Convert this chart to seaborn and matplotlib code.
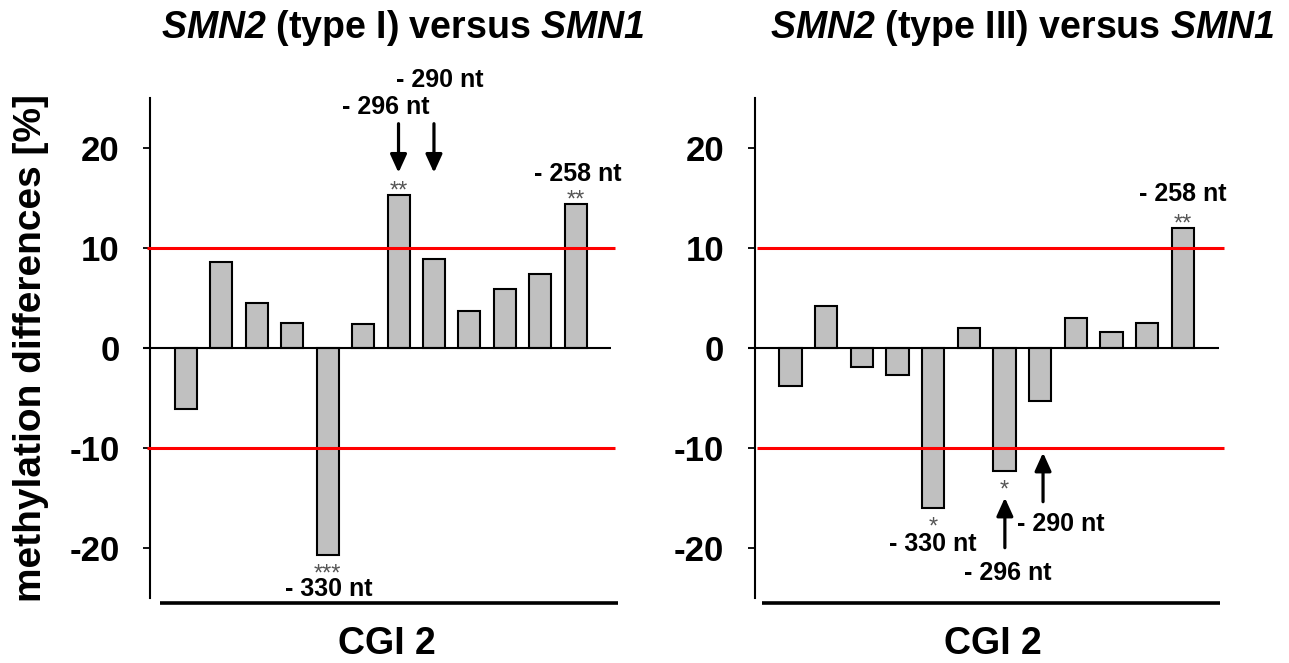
import matplotlib
matplotlib.use("Agg")
import matplotlib.pyplot as plt
import seaborn as sns
import pandas as pd

# ---------------- data ----------------
cpg_sites = [1, 2, 3, 4, 5, 6, 7, 8, 9, 10, 11, 12]
type1_diff = [-6.1, 8.6, 4.5, 2.5, -20.7, 2.4, 15.3, 8.9, 3.7, 5.9, 7.4, 14.4]
type3_diff = [-3.8, 4.2, -1.9, -2.7, -16.0, 2.0, -12.3, -5.3, 3.0, 1.6, 2.5, 12.0]
type1_sig = ["", "", "", "", "***", "", "**", "", "", "", "", "**"]
type3_sig = ["", "", "", "", "*", "", "*", "", "", "", "", "**"]
threshold = 10
y_ticks = [-20, -10, 0, 10, 20]
titles = [r"$\mathrm{SMN2}$ (type I) versus $\mathrm{SMN1}$",
          r"$\mathrm{SMN2}$ (type III) versus $\mathrm{SMN1}$"]
xlabel_text = "CGI 2"
ylabel_text = "methylation differences [%]"

# ---------------- style ----------------
sns.set_style("white")
plt.rcParams["font.family"] = ["Liberation Sans", "DejaVu Sans"]
plt.rcParams["font.weight"] = "bold"
plt.rcParams["axes.unicode_minus"] = False
plt.rcParams["text.color"] = "black"
plt.rcParams["axes.labelcolor"] = "black"
plt.rcParams["ytick.color"] = "black"
plt.rcParams["xtick.color"] = "black"
plt.rcParams["mathtext.fontset"] = "custom"
plt.rcParams["mathtext.it"] = "Liberation Sans:italic:bold"
plt.rcParams["mathtext.rm"] = "Liberation Sans:italic:bold"
plt.rcParams["mathtext.bf"] = "Liberation Sans:italic:bold"

W, H = 1289, 663
fig = plt.figure(figsize=(W / 100, H / 100), dpi=100)

def fx(px):
    return px / W

def fy(py):
    return (H - py) / H

ax_bottom, ax_top = 597.7, 97.7
ax1 = fig.add_axes([fx(150.4), fy(ax_bottom), fx(616.5 - 150.4), (ax_bottom - ax_top) / H])
ax2 = fig.add_axes([fx(754.8), fy(ax_bottom), fx(1223.9 - 754.8), (ax_bottom - ax_top) / H])

panels = [
    dict(ax=ax1, vals=type1_diff, sig=type1_sig, red=(-1.1, 12.1), zero=(-1.2, 12.0),
         base=(-0.73, 12.19)),
    dict(ax=ax2, vals=type3_diff, sig=type3_sig, red=(-0.95, 12.15), zero=(-1.2, 12.0),
         base=(-0.8, 12.05)),
]

for p in panels:
    ax = p["ax"]
    df = pd.DataFrame({"site": cpg_sites, "diff": p["vals"]})
    sns.barplot(data=df, x="site", y="diff", ax=ax, color="#c0c0c0", saturation=1,
                edgecolor="black", linewidth=1.5, width=0.62, zorder=3)
    ax.set_xlim(-1.0, 12.15)
    ax.set_ylim(-25, 25)
    ax.set_xticks([])
    ax.set_yticks(y_ticks)
    ax.set_yticklabels([str(t) for t in y_ticks])
    ax.tick_params(axis="y", direction="out", length=5, width=1.3, pad=17,
                   labelsize=25, left=True, colors="black")
    for lbl in ax.get_yticklabels():
        lbl.set_fontweight("bold")
    for s in ["top", "right", "bottom"]:
        ax.spines[s].set_visible(False)
    ax.spines["left"].set_linewidth(1.5)
    ax.spines["left"].set_color("black")
    ax.set_xlabel("")
    ax.set_ylabel("")
    ax.patch.set_alpha(0)
    # zero line and thresholds
    ax.hlines(0, p["zero"][0], p["zero"][1], color="black", lw=1.5, zorder=4, clip_on=False)
    ax.hlines([threshold, -threshold], p["red"][0], p["red"][1], color="#ff0000", lw=2.2,
              zorder=5, clip_on=False)
    ax.plot(list(p["base"]), [-25.56, -25.56], color="black", lw=2.6, clip_on=False,
            solid_capstyle="butt")
    # significance stars
    for i, (v, s) in enumerate(zip(p["vals"], p["sig"])):
        if s:
            off = -2 if v > 0 else -18.5
            ax.annotate(s, xy=(i, v), xytext=(0, off), textcoords="offset points",
                        ha="center", va="baseline", fontsize=17, fontweight="normal",
                        color="#555555", zorder=6, annotation_clip=False)

arrow_kw = dict(arrowstyle="-|>,head_length=0.55,head_width=0.25", color="black",
                lw=2.3, shrinkA=0, shrinkB=0, mutation_scale=20)
lab_kw = dict(ha="center", va="baseline", fontsize=18, fontweight="bold", annotation_clip=False)

# left panel annotations
ax1.annotate("- 296 nt", xy=(5.65, 23.4), **lab_kw)
ax1.annotate("- 290 nt", xy=(7.17, 26.1), **lab_kw)
ax1.annotate("- 258 nt", xy=(11.06, 16.7), **lab_kw)
ax1.annotate("- 330 nt", xy=(4.04, -24.8), **lab_kw)
ax1.annotate("", xy=(6, 17.5), xytext=(6, 22.4), arrowprops=arrow_kw, annotation_clip=False)
ax1.annotate("", xy=(7, 17.5), xytext=(7, 22.4), arrowprops=arrow_kw, annotation_clip=False)

# right panel annotations
ax2.annotate("- 258 nt", xy=(11.0, 14.7), **lab_kw)
ax2.annotate("- 330 nt", xy=(4.0, -20.3), **lab_kw)
ax2.annotate("- 296 nt", xy=(6.1, -23.2), **lab_kw)
ax2.annotate("- 290 nt", xy=(7.57, -18.3), **lab_kw)
ax2.annotate("", xy=(6.01, -15.0), xytext=(6.01, -20.0), arrowprops=arrow_kw, annotation_clip=False)
ax2.annotate("", xy=(7.08, -10.5), xytext=(7.08, -15.4), arrowprops=arrow_kw, annotation_clip=False)

# titles, axis labels
fig.text(fx(403), fy(37.7), titles[0], ha="center", va="baseline", fontsize=27, fontweight="bold")
fig.text(fx(1022), fy(37.7), titles[1], ha="center", va="baseline", fontsize=27, fontweight="bold")
fig.text(fx(386.7), fy(662), xlabel_text, ha="center", va="bottom", fontsize=27, fontweight="bold")
fig.text(fx(993), fy(662), xlabel_text, ha="center", va="bottom", fontsize=27, fontweight="bold")
fig.text(fx(31), fy(348), ylabel_text, ha="center", va="center", rotation=90,
         fontsize=28, fontweight="bold")

fig.savefig("out.png", dpi=100, facecolor="white")
